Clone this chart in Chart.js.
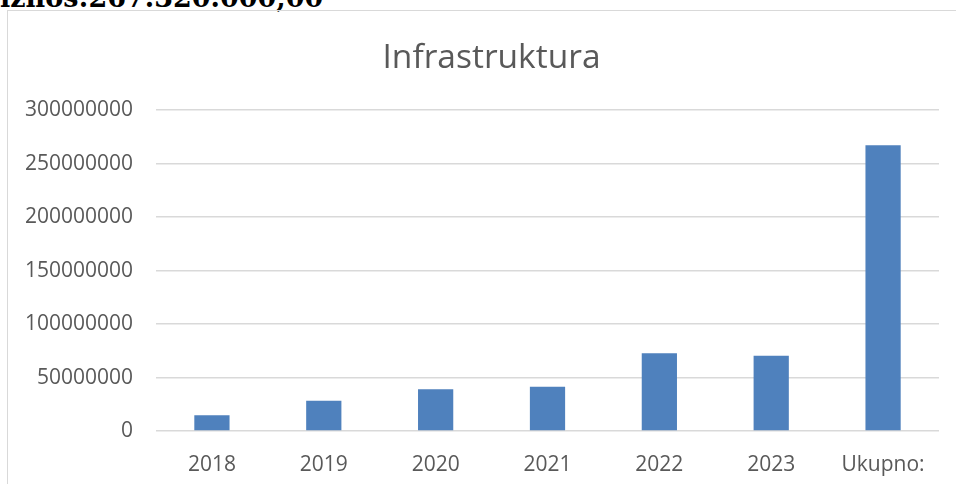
<!DOCTYPE html>
<html>
<head>
<meta charset="utf-8">
<script src="https://cdn.jsdelivr.net/npm/chart.js@4"></script>
<style>
  html, body { margin: 0; padding: 0; background: #fff; }
  body { width: 956px; height: 484px; position: relative; overflow: hidden; }
  #heading {
    position: absolute; left: 0; top: -16px;
    font-family: "DejaVu Serif", serif; font-weight: bold; font-size: 27px;
    line-height: 27px; color: #000; white-space: nowrap;
  }
  #frame {
    position: absolute; left: 7px; top: 10px; width: 949px; height: 474px;
    border-left: 1px solid #d9d9d9; border-top: 1px solid #d9d9d9;
  }
  #frame canvas { display: block; }
</style>
</head>
<body>
<div id="heading">iznos:267.320.000,00</div>
<div id="frame"><canvas id="chart" width="948" height="473"></canvas></div>
<script>
const categories = ["2018", "2019", "2020", "2021", "2022", "2023", "Ukupno:"];
const amounts = [14700000, 28300000, 39000000, 41400000, 72600000, 70400000, 267320000];
const yTicks = [0, 50000000, 100000000, 150000000, 200000000, 250000000, 300000000];

const labelColour = "#595959";
const gridColour = "#d9d9d9";

// the title in the original sits a little right of the canvas centre
const titleShift = {
  id: "titleShift",
  afterLayout(chart) {
    chart.titleBlock.left += 36;
  }
};

new Chart(document.getElementById("chart"), {
  type: "bar",
  data: {
    labels: categories,
    datasets: [{
      data: amounts,
      backgroundColor: "#4f81bd",
      categoryPercentage: 1,
      barPercentage: 0.315
    }]
  },
  options: {
    responsive: false,
    animation: false,
    layout: { padding: { left: 0, right: 17, top: 0, bottom: 0 } },
    plugins: {
      legend: { display: false },
      tooltip: { enabled: false },
      title: {
        display: true,
        text: "Infrastruktura",
        color: labelColour,
        font: { family: "'Open Sans'", size: 33.5, weight: "normal" },
        padding: { top: 27, bottom: 32 }
      }
    },
    scales: {
      x: {
        grid: { display: false, drawTicks: false },
        border: { display: false },
        ticks: { color: labelColour, font: { family: "'Open Sans'", size: 21 }, padding: 21 },
        afterFit: scale => { scale.height = 53; }
      },
      y: {
        min: 0,
        max: 300000000,
        afterBuildTicks: scale => { scale.ticks = yTicks.map(value => ({ value })); },
        grid: { color: gridColour, lineWidth: 1.5, drawTicks: false },
        border: { display: false },
        ticks: {
          color: labelColour,
          font: { family: "'Open Sans'", size: 21 },
          padding: 23,
          callback: value => String(value)
        },
        afterFit: scale => { scale.width = 148; }
      }
    }
  },
  plugins: [titleShift]
});
</script>
</body>
</html>
